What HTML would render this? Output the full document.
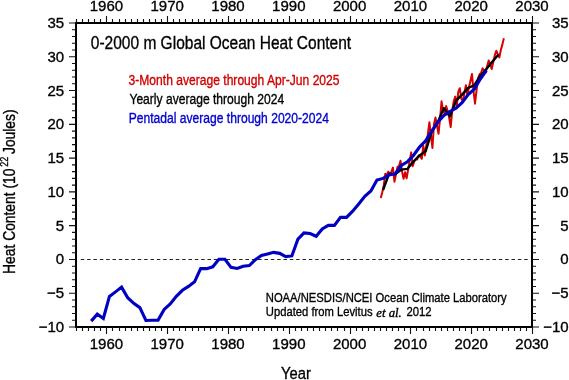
<!DOCTYPE html>
<html><head><meta charset="utf-8"><style>
html,body{margin:0;padding:0;background:#fff;width:569px;height:380px;overflow:hidden}
svg{display:block;will-change:transform}
text{font-family:"Liberation Sans",sans-serif;stroke-width:0.35px}
</style></head><body><svg width="569" height="380" viewBox="0 0 569 380" font-family="Liberation Sans, sans-serif"><rect x="76.0" y="23.0" width="456.0" height="304.0" fill="none" stroke="#000" stroke-width="2"/><path d="M76.5 23.0V19.0M76.5 327.0V331.0M82.5 23.0V19.0M82.5 327.0V331.0M88.5 23.0V19.0M88.5 327.0V331.0M94.5 23.0V19.0M94.5 327.0V331.0M100.5 23.0V19.0M100.5 327.0V331.0M106.5 23.0V16.0M106.5 327.0V334.0M112.5 23.0V19.0M112.5 327.0V331.0M119.5 23.0V19.0M119.5 327.0V331.0M125.5 23.0V19.0M125.5 327.0V331.0M131.5 23.0V19.0M131.5 327.0V331.0M137.5 23.0V19.0M137.5 327.0V331.0M143.5 23.0V19.0M143.5 327.0V331.0M149.5 23.0V19.0M149.5 327.0V331.0M155.5 23.0V19.0M155.5 327.0V331.0M161.5 23.0V19.0M161.5 327.0V331.0M167.5 23.0V16.0M167.5 327.0V334.0M173.5 23.0V19.0M173.5 327.0V331.0M179.5 23.0V19.0M179.5 327.0V331.0M185.5 23.0V19.0M185.5 327.0V331.0M192.5 23.0V19.0M192.5 327.0V331.0M198.5 23.0V19.0M198.5 327.0V331.0M204.5 23.0V19.0M204.5 327.0V331.0M210.5 23.0V19.0M210.5 327.0V331.0M216.5 23.0V19.0M216.5 327.0V331.0M222.5 23.0V19.0M222.5 327.0V331.0M228.5 23.0V16.0M228.5 327.0V334.0M234.5 23.0V19.0M234.5 327.0V331.0M240.5 23.0V19.0M240.5 327.0V331.0M246.5 23.0V19.0M246.5 327.0V331.0M252.5 23.0V19.0M252.5 327.0V331.0M258.5 23.0V19.0M258.5 327.0V331.0M264.5 23.0V19.0M264.5 327.0V331.0M271.5 23.0V19.0M271.5 327.0V331.0M277.5 23.0V19.0M277.5 327.0V331.0M283.5 23.0V19.0M283.5 327.0V331.0M289.5 23.0V16.0M289.5 327.0V334.0M295.5 23.0V19.0M295.5 327.0V331.0M301.5 23.0V19.0M301.5 327.0V331.0M307.5 23.0V19.0M307.5 327.0V331.0M313.5 23.0V19.0M313.5 327.0V331.0M319.5 23.0V19.0M319.5 327.0V331.0M325.5 23.0V19.0M325.5 327.0V331.0M331.5 23.0V19.0M331.5 327.0V331.0M337.5 23.0V19.0M337.5 327.0V331.0M344.5 23.0V19.0M344.5 327.0V331.0M350.5 23.0V16.0M350.5 327.0V334.0M356.5 23.0V19.0M356.5 327.0V331.0M362.5 23.0V19.0M362.5 327.0V331.0M368.5 23.0V19.0M368.5 327.0V331.0M374.5 23.0V19.0M374.5 327.0V331.0M380.5 23.0V19.0M380.5 327.0V331.0M386.5 23.0V19.0M386.5 327.0V331.0M392.5 23.0V19.0M392.5 327.0V331.0M398.5 23.0V19.0M398.5 327.0V331.0M404.5 23.0V19.0M404.5 327.0V331.0M410.5 23.0V16.0M410.5 327.0V334.0M416.5 23.0V19.0M416.5 327.0V331.0M423.5 23.0V19.0M423.5 327.0V331.0M429.5 23.0V19.0M429.5 327.0V331.0M435.5 23.0V19.0M435.5 327.0V331.0M441.5 23.0V19.0M441.5 327.0V331.0M447.5 23.0V19.0M447.5 327.0V331.0M453.5 23.0V19.0M453.5 327.0V331.0M459.5 23.0V19.0M459.5 327.0V331.0M465.5 23.0V19.0M465.5 327.0V331.0M471.5 23.0V16.0M471.5 327.0V334.0M477.5 23.0V19.0M477.5 327.0V331.0M483.5 23.0V19.0M483.5 327.0V331.0M489.5 23.0V19.0M489.5 327.0V331.0M496.5 23.0V19.0M496.5 327.0V331.0M502.5 23.0V19.0M502.5 327.0V331.0M508.5 23.0V19.0M508.5 327.0V331.0M514.5 23.0V19.0M514.5 327.0V331.0M520.5 23.0V19.0M520.5 327.0V331.0M526.5 23.0V19.0M526.5 327.0V331.0M532.5 23.0V16.0M532.5 327.0V334.0M76.0 327.00H69.0M532.0 327.00H539.0M76.0 320.24H72.0M532.0 320.24H536.0M76.0 313.49H72.0M532.0 313.49H536.0M76.0 306.73H72.0M532.0 306.73H536.0M76.0 299.98H72.0M532.0 299.98H536.0M76.0 293.22H69.0M532.0 293.22H539.0M76.0 286.47H72.0M532.0 286.47H536.0M76.0 279.71H72.0M532.0 279.71H536.0M76.0 272.96H72.0M532.0 272.96H536.0M76.0 266.20H72.0M532.0 266.20H536.0M76.0 259.44H69.0M532.0 259.44H539.0M76.0 252.69H72.0M532.0 252.69H536.0M76.0 245.93H72.0M532.0 245.93H536.0M76.0 239.18H72.0M532.0 239.18H536.0M76.0 232.42H72.0M532.0 232.42H536.0M76.0 225.67H69.0M532.0 225.67H539.0M76.0 218.91H72.0M532.0 218.91H536.0M76.0 212.16H72.0M532.0 212.16H536.0M76.0 205.40H72.0M532.0 205.40H536.0M76.0 198.64H72.0M532.0 198.64H536.0M76.0 191.89H69.0M532.0 191.89H539.0M76.0 185.13H72.0M532.0 185.13H536.0M76.0 178.38H72.0M532.0 178.38H536.0M76.0 171.62H72.0M532.0 171.62H536.0M76.0 164.87H72.0M532.0 164.87H536.0M76.0 158.11H69.0M532.0 158.11H539.0M76.0 151.36H72.0M532.0 151.36H536.0M76.0 144.60H72.0M532.0 144.60H536.0M76.0 137.84H72.0M532.0 137.84H536.0M76.0 131.09H72.0M532.0 131.09H536.0M76.0 124.33H69.0M532.0 124.33H539.0M76.0 117.58H72.0M532.0 117.58H536.0M76.0 110.82H72.0M532.0 110.82H536.0M76.0 104.07H72.0M532.0 104.07H536.0M76.0 97.31H72.0M532.0 97.31H536.0M76.0 90.56H69.0M532.0 90.56H539.0M76.0 83.80H72.0M532.0 83.80H536.0M76.0 77.04H72.0M532.0 77.04H536.0M76.0 70.29H72.0M532.0 70.29H536.0M76.0 63.53H72.0M532.0 63.53H536.0M76.0 56.78H69.0M532.0 56.78H539.0M76.0 50.02H72.0M532.0 50.02H536.0M76.0 43.27H72.0M532.0 43.27H536.0M76.0 36.51H72.0M532.0 36.51H536.0M76.0 29.76H72.0M532.0 29.76H536.0M76.0 23.00H69.0M532.0 23.00H539.0" stroke="#111" stroke-width="1.1" fill="none"/><g font-size="15" fill="#000" stroke="#000"><text x="106.40" y="10.8" text-anchor="middle">1960</text><text x="106.40" y="348.8" text-anchor="middle">1960</text><text x="167.20" y="10.8" text-anchor="middle">1970</text><text x="167.20" y="348.8" text-anchor="middle">1970</text><text x="228.00" y="10.8" text-anchor="middle">1980</text><text x="228.00" y="348.8" text-anchor="middle">1980</text><text x="288.80" y="10.8" text-anchor="middle">1990</text><text x="288.80" y="348.8" text-anchor="middle">1990</text><text x="349.60" y="10.8" text-anchor="middle">2000</text><text x="349.60" y="348.8" text-anchor="middle">2000</text><text x="410.40" y="10.8" text-anchor="middle">2010</text><text x="410.40" y="348.8" text-anchor="middle">2010</text><text x="471.20" y="10.8" text-anchor="middle">2020</text><text x="471.20" y="348.8" text-anchor="middle">2020</text><text x="532.00" y="10.8" text-anchor="middle">2030</text><text x="532.00" y="348.8" text-anchor="middle">2030</text><text x="64.1" y="332.00" text-anchor="end">−10</text><text x="568.6" y="332.00" text-anchor="end">−10</text><text x="64.1" y="298.22" text-anchor="end">−5</text><text x="568.6" y="298.22" text-anchor="end">−5</text><text x="64.1" y="264.44" text-anchor="end">0</text><text x="568.6" y="264.44" text-anchor="end">0</text><text x="64.1" y="230.67" text-anchor="end">5</text><text x="568.6" y="230.67" text-anchor="end">5</text><text x="64.1" y="196.89" text-anchor="end">10</text><text x="568.6" y="196.89" text-anchor="end">10</text><text x="64.1" y="163.11" text-anchor="end">15</text><text x="568.6" y="163.11" text-anchor="end">15</text><text x="64.1" y="129.33" text-anchor="end">20</text><text x="568.6" y="129.33" text-anchor="end">20</text><text x="64.1" y="95.56" text-anchor="end">25</text><text x="568.6" y="95.56" text-anchor="end">25</text><text x="64.1" y="61.78" text-anchor="end">30</text><text x="568.6" y="61.78" text-anchor="end">30</text><text x="64.1" y="28.00" text-anchor="end">35</text><text x="568.6" y="28.00" text-anchor="end">35</text></g><path d="M80.8 259.44H528" stroke="#222" stroke-width="1.1" stroke-dasharray="3.5 2.834"/><polyline points="380.76,197.97 382.28,192.23 383.80,185.13 385.32,173.65 386.84,175.00 388.36,171.62 389.88,174.32 391.40,171.62 392.92,167.57 394.44,181.76 395.96,174.32 397.48,166.89 399.00,166.22 400.52,160.81 402.04,171.62 403.56,178.72 405.08,172.30 406.60,178.38 408.12,169.60 409.64,161.15 411.16,152.37 412.68,166.22 414.20,161.49 415.72,159.46 417.24,159.46 418.76,155.41 420.28,156.76 421.80,158.79 423.32,145.95 424.84,155.41 426.36,145.28 427.88,133.79 429.40,122.31 430.92,135.14 432.44,147.98 433.96,124.33 435.48,117.58 437.00,125.68 438.52,133.79 440.04,118.93 441.56,101.36 443.08,110.82 444.60,113.52 446.12,106.09 447.64,110.82 449.16,117.58 450.68,127.04 452.20,110.82 453.72,101.36 455.24,96.64 456.76,106.09 458.28,91.91 459.80,88.19 461.32,98.66 462.84,101.36 464.36,93.26 465.88,85.15 467.40,95.28 468.92,87.18 470.44,81.10 471.96,73.94 473.48,90.56 475.00,103.66 476.52,90.56 478.04,78.40 479.56,74.34 481.08,72.99 482.60,68.26 484.12,70.29 485.64,72.59 487.16,66.24 488.68,60.43 490.20,64.88 491.72,68.94 493.24,62.18 494.76,55.43 496.28,50.70 497.80,54.08 499.32,57.45 500.84,50.02 502.36,44.62 503.88,38.34" fill="none" stroke="#d80000" stroke-width="2.0" stroke-linejoin="round"/><polyline points="383.04,190.20 389.12,173.65 395.20,174.32 401.28,169.60 407.36,168.92 413.44,161.49 419.52,155.41 425.60,151.36 431.68,131.76 437.76,122.31 443.84,108.12 449.92,116.23 456.00,100.69 462.08,94.61 468.16,87.85 474.24,85.49 480.32,75.69 486.40,68.94 492.48,61.51 498.56,54.41" fill="none" stroke="#000" stroke-width="2.4" stroke-linejoin="round"/><polyline points="91.20,321.12 97.28,314.16 103.36,318.42 109.44,296.40 115.52,291.87 121.60,287.14 127.68,297.68 133.76,303.36 139.84,307.61 145.92,320.51 152.00,320.24 158.08,320.11 164.16,309.44 170.24,304.03 176.32,296.33 182.40,290.32 188.48,286.40 194.56,281.81 200.64,268.56 206.72,268.63 212.80,266.81 218.88,259.24 224.96,259.24 231.04,267.35 237.12,268.43 243.20,266.20 249.28,265.52 255.36,259.71 261.44,255.53 267.52,253.90 273.60,252.35 279.68,253.36 285.76,256.61 291.84,255.93 297.92,239.18 304.00,232.90 310.08,233.57 316.16,236.27 322.24,228.91 328.32,225.40 334.40,225.40 340.48,217.36 346.56,217.42 352.64,211.14 358.72,204.05 364.80,196.21 370.88,191.01 376.96,180.00 383.04,178.38 389.12,175.00 395.20,173.65 401.28,165.54 407.36,161.83 413.44,155.41 419.52,147.10 425.60,140.82 431.68,131.09 437.76,122.31 443.84,115.55 449.92,111.50 456.00,108.12 462.08,102.72 468.16,94.61 474.24,89.20 480.32,79.07 486.40,70.29" fill="none" stroke="#0000c4" stroke-width="3.1" stroke-linejoin="miter" stroke-miterlimit="3"/><text x="0" y="0" font-size="18.7" fill="#000" stroke="#000" transform="translate(90.79 48.8) scale(0.83 1)">0-2000 m Global Ocean Heat Content</text><text x="0" y="0" font-size="14.5" fill="#d00000" stroke="#d00000" transform="translate(128.54 84.9) scale(0.834 1)">3-Month average through Apr-Jun 2025</text><text x="0" y="0" font-size="14.5" fill="#000" stroke="#000" transform="translate(129.43 103.8) scale(0.834 1)">Yearly average through 2024</text><text x="0" y="0" font-size="14.5" fill="#0000d0" stroke="#0000d0" transform="translate(128.71 122.7) scale(0.834 1)">Pentadal average through 2020-2024</text><text x="0" y="0" font-size="17.3" fill="#000" stroke="#000" transform="translate(280.97 378.7) scale(0.855 1)">Year</text><text x="0" y="0" font-size="13.5" fill="#000" stroke="#000" transform="translate(265.78 301.7) scale(0.833 1)">NOAA/NESDIS/NCEI Ocean Climate Laboratory</text><text x="0" y="0" font-size="13.5" fill="#000" stroke="#000" transform="translate(265.83 316.4) scale(0.833 1)">Updated from Levitus</text><text x="0" y="0" font-size="11.6" stroke="#000" style="font-family:'Liberation Serif',serif;font-style:italic" transform="translate(376.3 316.5) scale(1.1 1)">et al.</text><text x="0" y="0" font-size="13.5" fill="#000" stroke="#000" transform="translate(406.43 316.4) scale(0.84 1)">2012</text><text x="0" y="0" font-size="17.1" stroke="#000" transform="translate(15.0 273.94) rotate(-90) scale(0.81 1)">Heat Content (10</text><text x="0" y="0" font-size="11.3" stroke="#000" transform="translate(7.9 166.76) rotate(-90) scale(0.81 1)">22</text><text x="0" y="0" font-size="17.1" stroke="#000" transform="translate(15.0 154.02) rotate(-90) scale(0.81 1)">Joules)</text></svg></body></html>
